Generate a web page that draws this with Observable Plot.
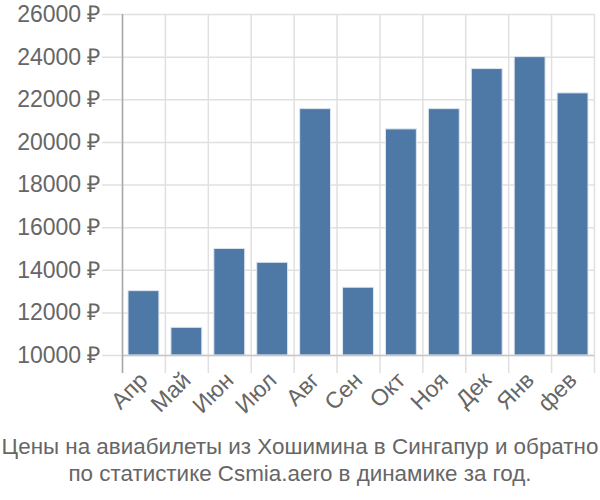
<!DOCTYPE html>
<html>
<head>
<meta charset="utf-8">
<script src="https://cdn.jsdelivr.net/npm/d3@7"></script>
<script src="https://cdn.jsdelivr.net/npm/@observablehq/plot@0.6"></script>
<style>
  body { margin: 0; background: #fff; font-family: "Liberation Sans", Arial, sans-serif; }
  #chart { width: 600px; }
  .caption { text-align: center; color: #666; font-size: 22.4px; line-height: 27px; margin-top: 3px; white-space: nowrap; }
</style>
</head>
<body>
<div id="chart"></div>
<script>
const months = ["Апр", "Май", "Июн", "Июл", "Авг", "Сен", "Окт", "Ноя", "Дек", "Янв", "фев"];
const prices = [13020, 11300, 15000, 14350, 21560, 13180, 20610, 21560, 23440, 24000, 22300];
const yTicks = [10000, 12000, 14000, 16000, 18000, 20000, 22000, 24000, 26000];
const baseValue = 10000;

const data = months.map((m, i) => ({month: m, price: prices[i]}));

const width = 600, marginLeft = 122, marginRight = 6;
const step = (width - marginLeft - marginRight) / months.length;
const barInset = step * 0.14;

const plot = Plot.plot({
  width: width,
  height: 430,
  marginTop: 14,
  marginLeft: marginLeft,
  marginRight: marginRight,
  marginBottom: 75,
  style: {fontFamily: "Liberation Sans, Arial, sans-serif", fontSize: "23px", color: "#666", background: "#fff"},
  x: {domain: months, padding: 0, round: false, label: null},
  y: {domain: [yTicks[0], yTicks[yTicks.length - 1]], label: null},
  marks: [
    Plot.ruleY(yTicks, {stroke: "#e0e0e0", strokeWidth: 1.5, insetLeft: -20}),
    Plot.ruleX(months, {x: d => d, dx: -step / 2, stroke: "#e0e0e0", strokeWidth: 1.5, insetBottom: -18}),
    Plot.ruleX([months[months.length - 1]], {x: d => d, dx: step / 2, stroke: "#e0e0e0", strokeWidth: 1.5, insetBottom: -18}),
    Plot.barY(data, {x: "month", y1: baseValue, y2: "price", insetLeft: barInset, insetRight: barInset, fill: "#4e79a7", stroke: "#dfe6ef", strokeWidth: 1}),
    Plot.ruleY([baseValue], {stroke: "#c8c8c8", strokeWidth: 1.5}),
    Plot.ruleX([months[0]], {x: d => d, dx: -step / 2, stroke: "#a8a8a8", strokeWidth: 1.5, insetBottom: -18}),
    Plot.axisY({ticks: yTicks, tickSize: 0, tickPadding: 22, tickFormat: d => d + " ₽", fill: "#666", fontSize: 23}),
    Plot.axisX({tickSize: 0, tickRotate: -45, tickPadding: 21, fill: "#666", fontSize: 23})
  ]
});

document.getElementById("chart").appendChild(plot);
const cap = document.createElement("div");
cap.className = "caption";
cap.innerHTML = "Цены на авиабилеты из Хошимина в Сингапур и обратно<br>по статистике Csmia.aero в динамике за год.";
document.getElementById("chart").appendChild(cap);
</script>
</body>
</html>
